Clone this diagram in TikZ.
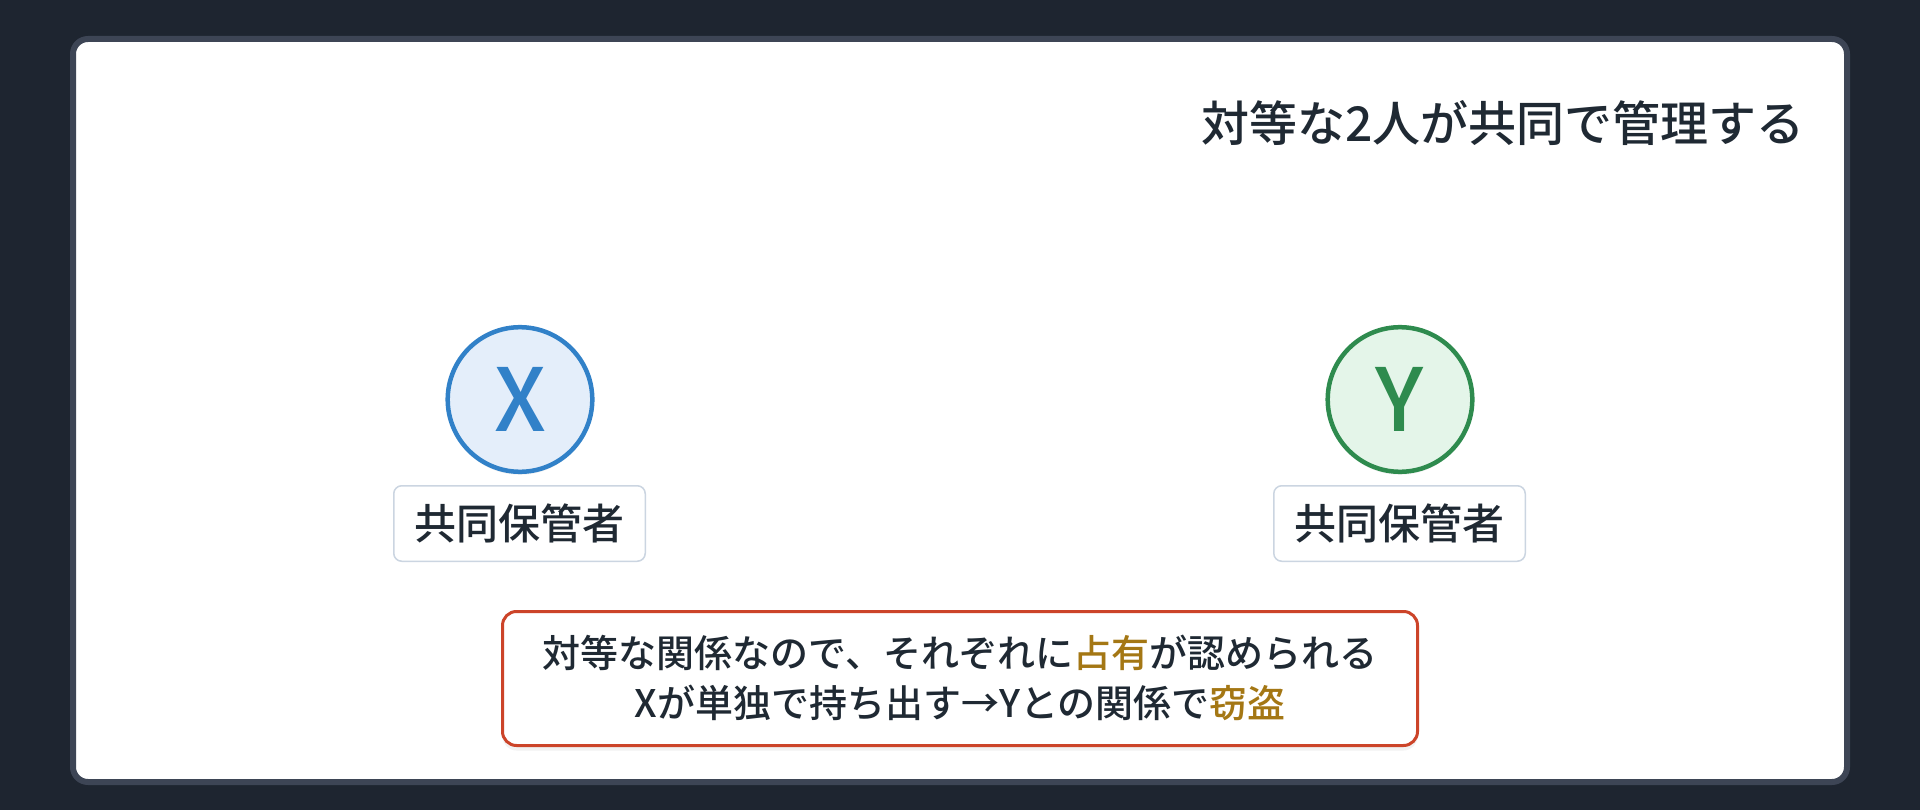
\documentclass[tikz,border=0pt]{standalone}
\usepackage{fontspec}
\setmainfont{Noto Sans CJK JP}[UprightFont={* Medium}, BoldFont={* Bold}]
\usetikzlibrary{shadows}
\definecolor{bgdark}{HTML}{1E2530}
\definecolor{panelborder}{HTML}{3D4555}
\definecolor{ink}{HTML}{1F2933}
\definecolor{gold}{HTML}{A47714}
\definecolor{alertred}{HTML}{CC4429}
\definecolor{xblue}{HTML}{3181C8}
\definecolor{xbluefill}{HTML}{E4EEFA}
\definecolor{ygreen}{HTML}{2E8B4E}
\definecolor{ygreenfill}{HTML}{E4F5E9}
\definecolor{labelborder}{HTML}{CBD5E1}
\tikzset{
  person/.style={circle, minimum size=144.6pt, inner sep=0pt, line width=4.5pt,
    font=\fontsize{87}{87}\selectfont, drop shadow={opacity=0.10, shadow xshift=0pt, shadow yshift=-3pt}},
  rolebox/.style={rectangle, rounded corners=8pt, draw=labelborder, fill=white, line width=1.5pt,
    minimum width=251.5pt, minimum height=75.5pt, inner sep=0pt, text=ink,
    font=\fontsize{42}{42}\selectfont},
  notebox/.style={rectangle, rounded corners=14pt, draw=alertred, fill=white, line width=3pt,
    minimum width=915pt, minimum height=134pt, inner sep=0pt,
    drop shadow={opacity=0.10, shadow xshift=0pt, shadow yshift=-5pt}},
  notetext/.style={anchor=base, text=ink, inner sep=0pt, font=\fontsize{38}{38}\selectfont},
  titletext/.style={anchor=base east, text=ink, inner sep=0pt, font=\fontsize{48}{48}\selectfont}
}
\begin{document}
\begin{tikzpicture}[x=1pt,y=-1pt]
\useasboundingbox (0,0) rectangle (1920,810);
\fill[bgdark] (0,0) rectangle (1920,810);
\draw[panelborder, line width=6pt, fill=white, rounded corners=15pt] (73,39) rectangle (1847,782);

\node[titletext] (title) at (1805,141.5) {対等な2人が共同で管理する};

\node[person, draw=xblue, fill=xbluefill, text=xblue] (x) at (520,399.5) {X};
\node[person, draw=ygreen, fill=ygreenfill, text=ygreen] (y) at (1400,399.5) {Y};

\node[rolebox] (xrole) at (519.5,523.5) {共同保管者};
\node[rolebox] (yrole) at (1399.5,523.5) {共同保管者};

\node[notebox] (note) at (960,678.5) {};
\node[notetext] (line1) at (960,667.5) {対等な関係なので、それぞれに\textcolor{gold}{占有}が認められる};
\node[notetext] (line2) at (960,717.5) {Xが単独で持ち出す→Yとの関係で\textcolor{gold}{窃盗}};
\end{tikzpicture}
\end{document}
